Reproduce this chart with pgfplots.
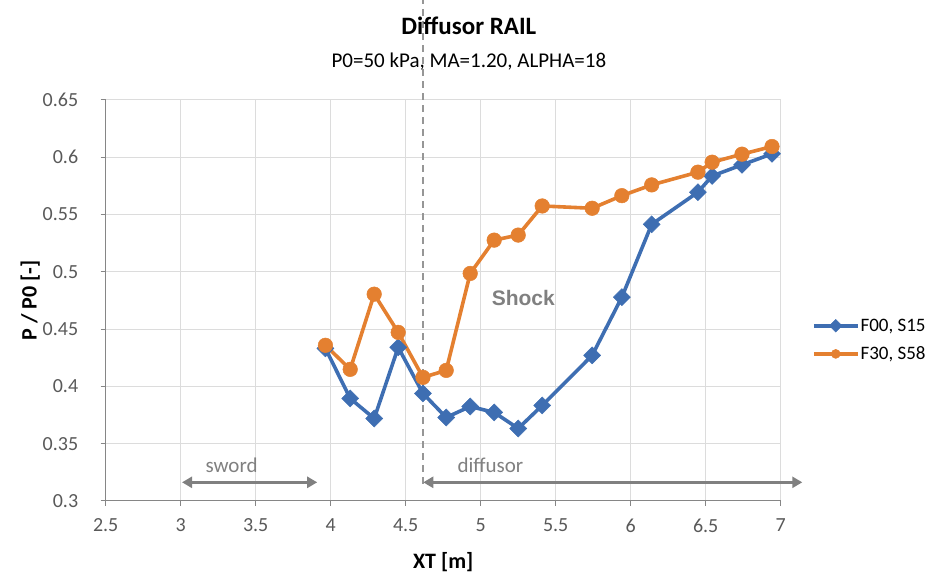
\documentclass[border=0pt]{standalone}
\usepackage{pgfplots}
\pgfplotsset{compat=1.18}
\usepackage{fontspec}
\setmainfont{Carlito}
\newfontfamily\arialfont{Liberation Sans}
\usetikzlibrary{arrows.meta}
\definecolor{sblue}{RGB}{62,110,178}
\definecolor{sorange}{RGB}{228,128,48}
\definecolor{gridc}{RGB}{220,220,220}
\definecolor{axc}{RGB}{134,134,134}
\definecolor{tickc}{RGB}{89,89,89}
\definecolor{annc}{RGB}{128,128,128}
\definecolor{dashc}{RGB}{150,150,150}

\pgfplotstableread{
x y
3.965 0.4332
4.130 0.3895
4.290 0.3720
4.450 0.4341
4.615 0.3939
4.770 0.3729
4.930 0.3825
5.090 0.3773
5.250 0.3633
5.410 0.3834
5.743 0.4271
5.941 0.4779
6.140 0.5415
6.448 0.5695
6.543 0.5837
6.742 0.5934
6.942 0.6030
}\blue

\pgfplotstableread{
x y
3.965 0.4359
4.130 0.4149
4.290 0.4805
4.450 0.4472
4.615 0.4079
4.770 0.4140
4.930 0.4986
5.090 0.5277
5.250 0.5321
5.410 0.5575
5.743 0.5555
5.941 0.5665
6.140 0.5759
6.448 0.5870
6.543 0.5957
6.742 0.6027
6.942 0.6094
}\orange

\begin{document}
\begin{tikzpicture}
\useasboundingbox (-105.7pt,-79pt) rectangle (845.3pt,501pt);
\begin{axis}[
  at={(0,0)}, anchor=south west,
  scale only axis, width=675pt, height=401pt,
  xmin=2.5, xmax=7, ymin=0.3, ymax=0.65,
  xtick={2.5,3,3.5,4,4.5,5,5.5,6,6.5,7},
  ytick={0.3,0.35,0.4,0.45,0.5,0.55,0.6,0.65},
  /pgf/number format/assume math mode=true,
  /pgf/number format/fixed,
  /pgf/number format/precision=2,
  axis x line*=bottom, axis y line*=left,
  axis line style={draw=axc, line width=1pt, -},
  grid=major,
  major grid style={draw=gridc, line width=1pt},
  tick align=outside,
  major tick length=5pt,
  tick style={draw=axc, line width=1pt},
  tick label style={font=\fontsize{20}{20}\selectfont, color=tickc},
  xticklabel style={yshift=-9pt},
  yticklabel style={xshift=-19pt},
  clip=false,
  title={Diffusor RAIL},
  title style={at={(axis description cs:0.538,1.1696)}, anchor=center, font=\fontsize{25}{25}\selectfont\bfseries},
  xlabel={XT [m]},
  xlabel style={at={(axis description cs:0.5,-0.152)}, anchor=center, font=\fontsize{22}{22}\selectfont\bfseries},
  ylabel={P / P0 [-]},
  ylabel style={at={(axis description cs:-0.112,0.5)}, anchor=center, rotate=0, font=\fontsize{22}{22}\selectfont\bfseries},
  legend style={at={(axis description cs:1.046,0.4015)}, anchor=west, draw=none, fill=none,
    font=\fontsize{19}{19}\selectfont, row sep=12pt, inner sep=0pt,
    nodes={inner sep=1pt}},
  legend cell align=left,
  legend image code/.code={\draw[mark repeat=2,mark phase=2,#1,mark size=4.5pt] plot coordinates {(0pt,0pt) (22pt,0pt) (44pt,0pt)};},
]
\draw[dashc, line width=1.2pt, dash pattern=on 7pt off 5pt] (axis cs:4.615,0.315) -- (axis cs:4.615,0.7377);

\addplot[sblue, line width=3.6pt, mark=square*, mark size=6pt,
  mark options={rotate=45, fill=sblue, draw=sblue, line width=0.5pt}] table[x=x,y=y] {\blue};
\addlegendentry{F00, S15}
\addplot[sorange, line width=3.6pt, mark=*, mark size=7.3pt,
  mark options={fill=sorange, draw=sorange, line width=0.5pt}] table[x=x,y=y] {\orange};
\addlegendentry{F30, S58}

\node[font=\fontsize{21}{21}\selectfont, anchor=center] at (axis description cs:0.538,1.097) {P0=50 kPa, MA=1.20, ALPHA=18};

\node[font=\arialfont\fontsize{21}{21}\selectfont\bfseries, text=annc] at (axis cs:5.284,0.477) {Shock};
\node[font=\fontsize{21}{21}\selectfont, text=annc, anchor=base] at (axis cs:3.339,0.325) {sword};
\node[font=\fontsize{21}{21}\selectfont, text=annc, anchor=base] at (axis cs:5.065,0.325) {diffusor};
\draw[annc, line width=2.4pt, {Triangle[length=10pt,width=11pt]}-{Triangle[length=10pt,width=11pt]}] (axis cs:3.009,0.3163) -- (axis cs:3.91,0.3163);
\draw[annc, line width=2.4pt, {Triangle[length=10pt,width=11pt]}-{Triangle[length=10pt,width=11pt]}] (axis cs:4.617,0.3163) -- (axis cs:7.144,0.3163);
\end{axis}
\end{tikzpicture}
\end{document}
